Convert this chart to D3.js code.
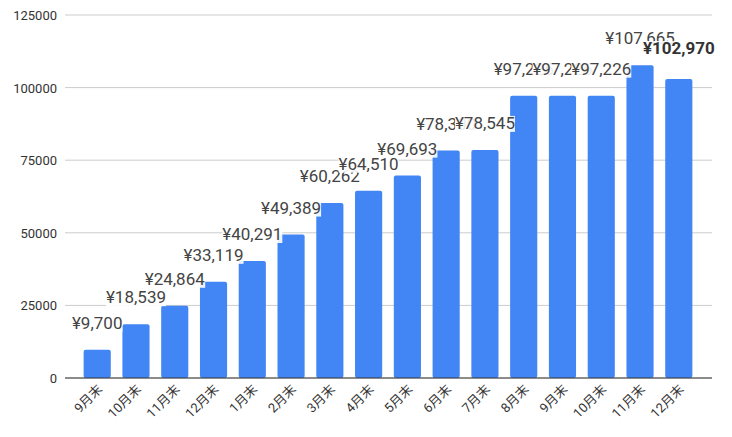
<!DOCTYPE html><html><head><meta charset="utf-8"><script src="https://cdn.jsdelivr.net/npm/d3@7"></script>
<style>body{margin:0;background:#fff}text{font-family:Roboto,"Noto Sans CJK JP",sans-serif}</style></head><body><svg id="c" width="732" height="437"></svg><script>
const categories=["9月末","10月末","11月末","12月末","1月末","2月末","3月末","4月末","5月末","6月末","7月末","8月末","9月末","10月末","11月末","12月末"];
const values=[9700,18539,24864,33119,40291,49389,60262,64510,69693,78300,78545,97226,97226,97226,107665,102970];
const yTicks=[0,25000,50000,75000,100000,125000];
const svg=d3.select("#c");
const x=d3.scaleBand().domain(d3.range(categories.length)).range([72,704]).padding(0.3);
const y=d3.scaleLinear().domain([0,125000]).range([378,15]);
svg.append("g").selectAll("line").data(yTicks).join("line").attr("x1",65).attr("x2",712).attr("y1",d=>y(d)).attr("y2",d=>y(d)).attr("stroke","#ccc");
svg.append("g").selectAll("text").data(yTicks).join("text").attr("x",57).attr("y",d=>y(d)+5).attr("text-anchor","end").attr("font-size",13).attr("fill","#333").text(d=>d);
svg.append("g").selectAll("rect").data(values).join("rect").attr("x",(d,i)=>x(i)).attr("width",x.bandwidth()).attr("y",d=>y(d)).attr("height",d=>378-y(d)).attr("rx",2).attr("fill","#4285f4");
svg.append("line").attr("x1",65).attr("x2",712).attr("y1",378).attr("y2",378).attr("stroke","#333");
const lg=svg.append("g");
values.forEach((d,i)=>{
 const last=i===values.length-1;
 const t=lg.append("text").attr("x",x(i)+x.bandwidth()/2).attr("y",y(d)-(last?25:21)).attr("text-anchor","middle").attr("font-size",17).attr("font-weight",last?"bold":"normal").attr("fill",last?"#333":"#444").text("¥"+d3.format(",")(d));
 const b=t.node().getBBox();
 lg.insert("rect",()=>t.node()).attr("x",b.x).attr("y",b.y+3).attr("width",b.width).attr("height",b.height-4).attr("fill","#fff").attr("opacity",0.9);
});
svg.append("g").selectAll("text").data(categories).join("text").attr("transform",(d,i)=>`translate(${x(i)+x.bandwidth()/2+6},${390}) rotate(-45)`).attr("text-anchor","end").attr("font-size",13).attr("fill","#333").text(d=>d);
</script></body></html>
